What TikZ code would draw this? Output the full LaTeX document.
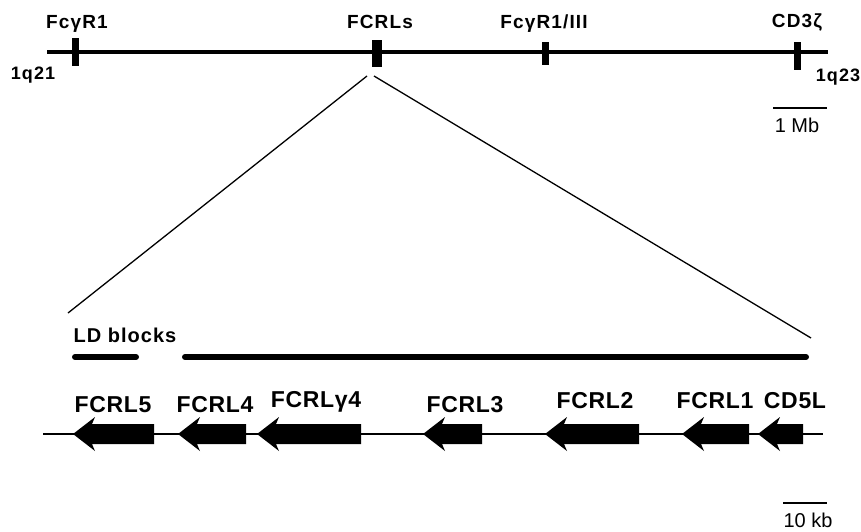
\documentclass[tikz,border=0pt]{standalone}
\usepackage{fontspec}
\setmainfont{Liberation Sans}
\newfontfamily\labfont[LetterSpace=6]{Liberation Sans}
\newfontfamily\genefont[LetterSpace=3]{Liberation Sans}
\newfontfamily\ldfont[LetterSpace=5]{Liberation Sans}
\begin{document}
\begin{tikzpicture}[x=1pt,y=-1pt,
  toplab/.style={anchor=base,inner sep=0pt,font=\labfont\bfseries\fontsize{19}{19}\selectfont},
  armlab/.style={anchor=base,inner sep=0pt,font=\labfont\bfseries\fontsize{18}{18}\selectfont},
  genelab/.style={anchor=base,inner sep=0pt,font=\genefont\bfseries\fontsize{23}{23}\selectfont},
  scalelab/.style={anchor=base,inner sep=0pt,font=\fontsize{20}{20}\selectfont},
  chrom/.style={line width=4.5pt},
  marker/.style={line width=7pt},
  cone/.style={line width=1.3pt},
  ldbar/.style={line width=6pt,line cap=round},
  gline/.style={line width=2pt},
  sbar/.style={line width=2pt}]
\useasboundingbox (0,0) rectangle (861,531);

% chromosome 1q21-q23
\coordinate (cL) at (47,52);
\coordinate (cR) at (828,52);
\draw[chrom] (cL) -- (cR);
\draw[marker] (75,38) -- (75,66);
\draw[line width=10pt] (377,40) -- (377,67);
\draw[marker] (545,42) -- (545,65);
\draw[marker] (797,42) -- (797,70);

\node[toplab] (fcg1) at (77,28) {FcγR1};
\node[toplab] (fcrls) at (380,28) {FCRLs};
\node[toplab] (fcg3) at (544,28) {FcγR1/III};
\node[toplab] (cd3) at (797,27) {CD3ζ};
\node[armlab] (q21) at (33,79) {1q21};
\node[armlab] (q23) at (838,81) {1q23};

% 1 Mb scale
\coordinate (mbA) at (773,108);
\coordinate (mbB) at (827,108);
\draw[sbar] (mbA) -- (mbB);
\node[scalelab] (mb) at (797,132) {1 Mb};

% zoom cone
\coordinate (apexL) at (367,76);
\coordinate (apexR) at (374,76);
\coordinate (baseL) at (68,313);
\coordinate (baseR) at (811,338);
\draw[cone] (apexL) -- (baseL);
\draw[cone] (apexR) -- (baseR);

% LD blocks
\node[anchor=base,inner sep=0pt,font=\ldfont\bfseries\fontsize{20}{20}\selectfont] (ld) at (125,342) {LD blocks};
\coordinate (ld1a) at (75,357);
\coordinate (ld1b) at (136,357);
\coordinate (ld2a) at (185,357);
\coordinate (ld2b) at (806,357);
\draw[ldbar] (ld1a) -- (ld1b);
\draw[ldbar] (ld2a) -- (ld2b);

% gene line
\coordinate (gA) at (43,434);
\coordinate (gB) at (823,434);
\draw[gline] (gA) -- (gB);

% genes: arrows pointing left (tip, end)
\newcommand\genearrow[2]{%
  \fill (#1,434) -- (#1+22,417) -- (#1+19,424) -- (#2,424) -- (#2,444) -- (#1+19,444) -- (#1+22,451) -- cycle;}
\genearrow{73}{154}
\genearrow{178}{246}
\genearrow{257}{361}
\genearrow{423}{482}
\genearrow{545}{639}
\genearrow{682}{749}
\genearrow{758}{803}

\node[genelab] (g5) at (113,412) {FCRL5};
\node[genelab] (g4) at (215,412) {FCRL4};
\node[genelab] (gp4) at (316,407) {FCRLγ4};
\node[genelab] (g3) at (465,412) {FCRL3};
\node[genelab] (g2) at (595,408) {FCRL2};
\node[genelab] (g1) at (715,408) {FCRL1};
\node[genelab] (cd5) at (795,408) {CD5L};

% 10 kb scale
\coordinate (kbA) at (783,503);
\coordinate (kbB) at (827,503);
\draw[sbar] (kbA) -- (kbB);
\node[scalelab] (kb) at (808,527) {10 kb};
\end{tikzpicture}
\end{document}
